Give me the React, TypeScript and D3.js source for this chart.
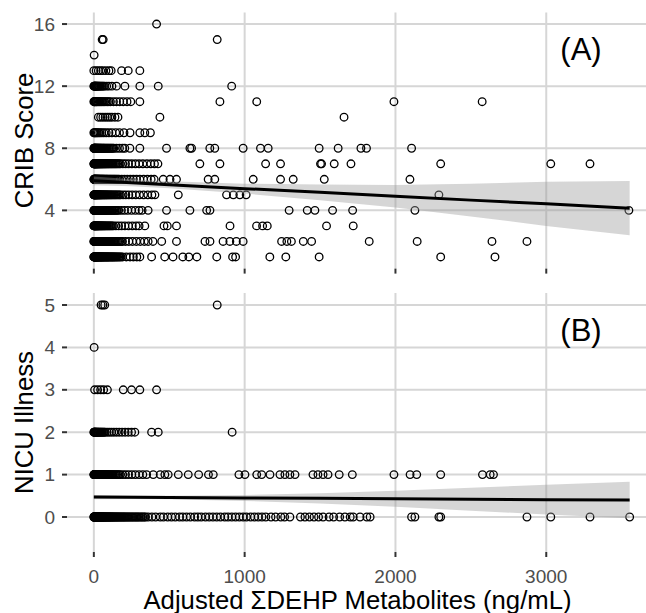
import React from 'react';
import { scaleLinear, area, line } from 'd3';

const width = 646;
const height = 613;
const font = '"Liberation Sans", Arial, sans-serif';

// x axis (ng/mL)
const xTicks = [0, 1000, 2000, 3000];

// CRIB score rows: x values of the points at each score
const crib1 = [0, 1, 2, 3, 4, 6, 7, 9, 10, 12, 13, 15, 16, 18, 20, 22, 24, 26, 28, 30, 32, 35, 37, 40, 42, 45, 47, 50, 52, 55, 58, 61, 64, 67, 70, 74, 77, 81, 84, 88, 91, 95, 99, 103, 107, 112, 116, 121, 125, 130, 135, 140, 146, 152, 158, 165, 172, 180, 190, 215, 240, 262, 285, 305, 383, 470, 525, 590, 630, 683, 815, 920, 940, 1167, 1273, 1494, 2300, 2660];
const crib2 = [0, 1, 3, 4, 6, 8, 9, 11, 13, 15, 17, 19, 21, 24, 26, 29, 31, 34, 36, 39, 42, 45, 48, 52, 55, 59, 62, 66, 70, 74, 78, 83, 87, 92, 96, 101, 106, 112, 117, 123, 129, 136, 142, 149, 156, 164, 172, 181, 190, 210, 232, 256, 282, 308, 335, 360, 392, 450, 548, 737, 770, 857, 902, 945, 990, 1245, 1280, 1310, 1389, 1444, 1826, 2144, 2640, 2872];
const crib3 = [0, 2, 3, 5, 7, 9, 11, 13, 15, 18, 20, 23, 25, 28, 31, 34, 37, 41, 44, 48, 52, 56, 60, 65, 69, 74, 79, 85, 90, 96, 102, 108, 115, 122, 130, 146, 164, 184, 206, 230, 255, 280, 300, 338, 465, 487, 548, 903, 1079, 1119, 1150, 1543, 1720];
const crib4 = [0, 1, 2, 4, 5, 7, 8, 10, 12, 14, 16, 18, 20, 23, 25, 28, 30, 33, 36, 39, 42, 46, 49, 53, 56, 60, 64, 69, 73, 78, 83, 88, 94, 100, 106, 112, 119, 126, 133, 140, 148, 156, 165, 183, 203, 225, 250, 275, 300, 320, 360, 482, 637, 748, 770, 1295, 1415, 1466, 1583, 1716, 2129, 3548];
const crib5 = [0, 1, 2, 3, 4, 6, 7, 9, 10, 12, 13, 15, 17, 19, 21, 23, 25, 28, 30, 33, 35, 38, 41, 44, 47, 50, 54, 57, 61, 65, 69, 73, 77, 82, 86, 91, 96, 101, 107, 113, 119, 125, 132, 139, 146, 153, 161, 169, 177, 194, 212, 232, 254, 278, 303, 330, 358, 385, 405, 560, 880, 925, 968, 1010, 2288];
const crib6 = [0, 1, 3, 4, 6, 7, 9, 11, 12, 14, 16, 18, 20, 22, 24, 27, 29, 32, 34, 37, 40, 43, 46, 50, 53, 57, 60, 64, 68, 72, 77, 82, 87, 92, 98, 104, 110, 116, 123, 130, 137, 144, 152, 160, 168, 185, 203, 222, 242, 262, 283, 305, 330, 355, 380, 400, 460, 505, 548, 758, 802, 1057, 1238, 1322, 1528, 2096];
const crib7 = [0, 1, 2, 4, 5, 7, 8, 10, 11, 13, 15, 17, 19, 21, 23, 26, 28, 31, 33, 36, 39, 42, 45, 48, 52, 55, 59, 63, 67, 71, 75, 80, 84, 89, 94, 100, 105, 111, 117, 123, 130, 137, 144, 151, 159, 167, 175, 192, 210, 230, 252, 276, 300, 325, 352, 378, 402, 425, 703, 836, 1139, 1238, 1503, 1510, 1594, 1705, 2300, 3030, 3290];
const crib8 = [0, 2, 3, 5, 7, 9, 11, 13, 16, 18, 21, 24, 27, 30, 33, 37, 40, 44, 48, 52, 57, 62, 67, 72, 78, 84, 90, 96, 103, 110, 117, 125, 132, 150, 170, 190, 205, 239, 305, 482, 637, 648, 769, 802, 990, 1105, 1156, 1494, 1620, 1771, 1808, 2107];
const crib9 = [0, 4, 9, 15, 22, 30, 40, 52, 66, 82, 100, 120, 145, 170, 200, 240, 305, 338, 375];
const crib10 = [30, 45, 60, 75, 90, 105, 120, 140, 160, 438, 1659];
const crib11 = [0, 3, 5, 8, 12, 16, 20, 25, 30, 36, 42, 49, 56, 64, 72, 81, 90, 100, 110, 130, 150, 172, 195, 220, 245, 305, 836, 1080, 1990, 2575];
const crib12 = [0, 2, 4, 6, 8, 10, 13, 16, 19, 22, 26, 30, 34, 39, 44, 50, 56, 63, 70, 85, 100, 120, 150, 206, 305, 427, 914];
const crib13 = [0, 15, 30, 45, 60, 80, 100, 115, 184, 228, 305];
const crib14 = [2];
const crib15 = [55, 62, 818];
const crib16 = [416];
const cribRows = [crib1, crib2, crib3, crib4, crib5, crib6, crib7, crib8, crib9, crib10, crib11, crib12, crib13, crib14, crib15, crib16];
const cribScores = [1, 2, 3, 4, 5, 6, 7, 8, 9, 10, 11, 12, 13, 14, 15, 16];
const cribTicks = [4, 8, 12, 16];

// NICU illness rows
const nicu0 = [0, 1, 2, 3, 4, 5, 6, 7, 8, 9, 11, 12, 14, 15, 17, 19, 20, 22, 24, 26, 28, 30, 32, 34, 36, 38, 40, 42, 45, 47, 50, 52, 55, 57, 60, 62, 65, 68, 71, 74, 77, 80, 84, 87, 91, 94, 98, 101, 105, 109, 113, 117, 121, 126, 130, 135, 140, 145, 150, 155, 160, 166, 172, 177, 183, 189, 195, 201, 207, 214, 221, 228, 235, 243, 250, 258, 266, 274, 282, 290, 298, 307, 316, 325, 334, 343, 360, 385, 410, 440, 462, 490, 515, 540, 568, 590, 615, 640, 668, 690, 712, 740, 765, 790, 815, 840, 868, 890, 915, 940, 965, 990, 1012, 1040, 1065, 1090, 1115, 1140, 1175, 1205, 1240, 1265, 1300, 1370, 1400, 1430, 1460, 1490, 1520, 1560, 1590, 1630, 1665, 1700, 1720, 1765, 1810, 1832, 2107, 2129, 2288, 2300, 2872, 3030, 3290, 3553];
const nicu1 = [0, 1, 2, 3, 4, 6, 7, 9, 10, 12, 14, 16, 18, 20, 22, 25, 27, 30, 32, 35, 38, 41, 44, 47, 51, 54, 58, 62, 66, 70, 75, 79, 84, 89, 94, 99, 105, 111, 117, 123, 130, 137, 144, 151, 159, 167, 175, 192, 210, 230, 252, 275, 300, 325, 350, 394, 440, 471, 493, 560, 626, 695, 760, 792, 962, 1002, 1080, 1113, 1168, 1234, 1267, 1300, 1334, 1453, 1486, 1520, 1553, 1627, 1714, 1990, 2097, 2141, 2300, 2577, 2628, 2650];
const nicu2 = [0, 2, 3, 5, 7, 9, 12, 15, 18, 21, 25, 29, 33, 37, 42, 47, 52, 57, 63, 69, 75, 88, 102, 117, 133, 150, 168, 187, 207, 228, 250, 272, 383, 427, 917];
const nicu3 = [5, 25, 45, 65, 90, 195, 250, 305, 416];
const nicu4 = [2];
const nicu5 = [48, 60, 72, 818];
const nicuRows = [nicu0, nicu1, nicu2, nicu3, nicu4, nicu5];
const nicuScores = [0, 1, 2, 3, 4, 5];
const nicuTicks = [0, 1, 2, 3, 4, 5];

// fitted line and 95% band
const bandX = [0, 250, 500, 1000, 1500, 2000, 2500, 3000, 3553];
const cribFit = [5.9, 5.78, 5.65, 5.4, 5.16, 4.91, 4.66, 4.42, 4.14];
const cribHalf = [0.28, 0.22, 0.22, 0.32, 0.5, 0.72, 1.05, 1.42, 1.75];
const nicuFit = [0.47, 0.465, 0.46, 0.45, 0.44, 0.43, 0.42, 0.41, 0.4];
const nicuHalf = [0.05, 0.04, 0.04, 0.07, 0.12, 0.19, 0.27, 0.35, 0.43];

const left = 67;
const right = width;
const xScale = scaleLinear().domain([-178, 3731]).range([left, 656.5]);

const Panel = ({ id, yScale, rows, scores, ticks, fit, half, label, title, xLabels }) => {
  const [bottom, top] = yScale.range();
  const points = rows.flatMap((xs, i) => xs.map((v) => [v, scores[i]]));
  const band = area()
    .x((d, i) => xScale(bandX[i]))
    .y0((d, i) => yScale(fit[i] - half[i]))
    .y1((d, i) => yScale(fit[i] + half[i]));
  const fitLine = line()
    .x((d, i) => xScale(bandX[i]))
    .y((d, i) => yScale(fit[i]));
  const midY = (top + bottom) / 2;
  return (
    <g>
      <clipPath id={id}>
        <rect x={left} y={top} width={right - left} height={bottom - top} />
      </clipPath>
      {/* grid */}
      {ticks.map((t) => (
        <line key={'h' + t} x1={left} x2={right} y1={yScale(t)} y2={yScale(t)} stroke="#d6d6d6" strokeWidth={2} />
      ))}
      {xTicks.map((t) => (
        <line key={'v' + t} x1={xScale(t)} x2={xScale(t)} y1={top} y2={bottom} stroke="#d6d6d6" strokeWidth={2} />
      ))}
      <g clipPath={`url(#${id})`}>
        {points.map(([v, s], i) => (
          <circle key={i} cx={xScale(v)} cy={yScale(s)} r={3.8} fill="none" stroke="#000" strokeWidth={1.3} />
        ))}
        <path d={band(bandX)} fill="#999999" fillOpacity={0.4} />
        <path d={fitLine(bandX)} fill="none" stroke="#000" strokeWidth={3} />
      </g>
      <text x={581} y={top + 47.5} textAnchor="middle" fontSize={31} fontFamily={font}>{label}</text>
      {/* y axis */}
      {ticks.map((t) => (
        <g key={'y' + t} transform={`translate(0, ${yScale(t)})`}>
          <line x1={left - 5} x2={left} stroke="#333" strokeWidth={2} />
          <text x={55} dy="0.35em" textAnchor="end" fontSize={19} fill="#4d4d4d" fontFamily={font}>{t}</text>
        </g>
      ))}
      {/* x ticks */}
      {xTicks.map((t) => (
        <g key={'x' + t} transform={`translate(${xScale(t)}, ${bottom})`}>
          <line y1={0} y2={5} stroke="#333" strokeWidth={2} />
          {xLabels && (
            <text y={31} textAnchor="middle" fontSize={19} fill="#4d4d4d" fontFamily={font}>{t}</text>
          )}
        </g>
      ))}
      <text
        transform={`translate(33, ${midY}) rotate(-90)`}
        textAnchor="middle"
        fontSize={25.7}
        fontFamily={font}>{title}</text>
    </g>
  );
};

const App = () => {
  const yCrib = scaleLinear().domain([0.25, 16.75]).range([268.6, 12.4]);
  const yNicu = scaleLinear().domain([-0.825, 5.283]).range([552, 293]);

  return (
    <svg
      width={width}
      height={height}
      viewBox={`0 0 ${width} ${height}`}
      style={{ position: 'absolute', left: 0, top: 0, background: '#fff' }}>
      <Panel id="clipA" yScale={yCrib} rows={cribRows} scores={cribScores} ticks={cribTicks}
        fit={cribFit} half={cribHalf} label="(A)" title="CRIB Score" xLabels={false} />
      <Panel id="clipB" yScale={yNicu} rows={nicuRows} scores={nicuScores} ticks={nicuTicks}
        fit={nicuFit} half={nicuHalf} label="(B)" title="NICU Illness" xLabels={true} />
      <text x={357.5} y={609} textAnchor="middle" fontSize={25.7} fontFamily={font}>
        Adjusted ΣDEHP Metabolites (ng/mL)
      </text>
    </svg>
  );
};

export default App;
